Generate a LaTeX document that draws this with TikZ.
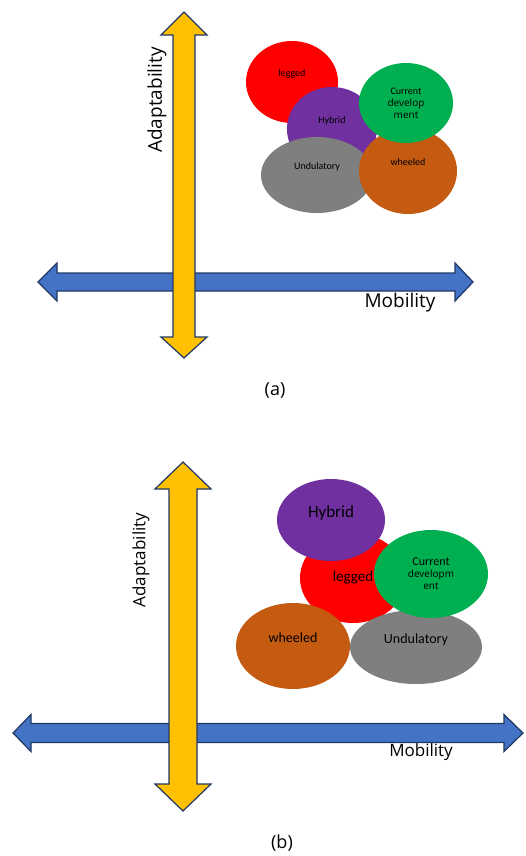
\documentclass[tikz,border=0pt]{standalone}
\usepackage{fontspec}
\setmainfont{Open Sans}
\newfontfamily\calfont{Carlito}
\usetikzlibrary{shapes.geometric}

\definecolor{axisblue}{HTML}{4472C4}
\definecolor{axisyellow}{HTML}{FFC000}
\definecolor{axisline}{HTML}{1F3864}
\definecolor{blobred}{HTML}{FF0000}
\definecolor{blobpurple}{HTML}{7030A0}
\definecolor{blobgreen}{HTML}{00B050}
\definecolor{blobbrown}{HTML}{C55A11}
\definecolor{blobgray}{HTML}{7F7F7F}

\begin{document}
\begin{tikzpicture}[x=1pt, y=-1pt,
    blockarrow/.style={draw=axisline, line width=1.2pt, line join=miter},
    blob/.style={ellipse, inner sep=0pt, align=center, text=black},
    raised/.style={text depth=17pt}]
    \useasboundingbox (0,0) rectangle (525,856);

    % (a) Eixo horizontal - Mobility
    \draw[blockarrow, fill=axisblue] (38,282) -- (57,263) -- (57,273) -- (455,273) -- (455,263) -- (473,282)
        -- (455,301) -- (455,291) -- (57,291) -- (57,301) -- cycle;
    % (a) Eixo vertical - Adaptability (por cima do azul)
    \draw[blockarrow, fill=axisyellow] (184,12) -- (207,35) -- (195,35) -- (195,337) -- (207,337) -- (184,358)
        -- (161,337) -- (173,337) -- (173,35) -- (161,35) -- cycle;
    \node (mobA) at (400,303) {\fontsize{19}{22}\selectfont Mobility};
    \node[rotate=90] (adaA) at (157,100) {\fontsize{19}{22}\selectfont Adaptability};

    % (a) Elipses, de baixo para cima
    \node[blob, raised, fill=blobred, minimum width=92, minimum height=82] (leggedA) at (292,82)
        {\calfont\fontsize{10}{14}\selectfont legged};
    \node[blob, raised, fill=blobpurple, minimum width=90, minimum height=84] (hybridA) at (332,129)
        {\calfont\fontsize{10}{14}\selectfont Hybrid};
    \node[blob, raised, fill=blobgray, minimum width=112, minimum height=76] (undulA) at (317,175)
        {\calfont\fontsize{10}{14}\selectfont Undulatory};
    \node[blob, raised, fill=blobbrown, minimum width=98, minimum height=86] (wheelA) at (408,171)
        {\calfont\fontsize{10}{14}\selectfont wheeled};
    \node[blob, fill=blobgreen, minimum width=94, minimum height=80] (currentA) at (406,103)
        {\calfont\fontsize{10}{14}\selectfont Current\\develop\\ment};

    \node (capA) at (275,390) {\fontsize{18}{22}\selectfont (a)};

    % (b) Eixo horizontal - Mobility
    \draw[blockarrow, fill=axisblue] (13,733) -- (31,714.5) -- (31,723.5) -- (504,723.5) -- (504,714.5) -- (523,733)
        -- (504,751.5) -- (504,742.5) -- (31,742.5) -- (31,751.5) -- cycle;
    % (b) Eixo vertical - Adaptability
    \draw[blockarrow, fill=axisyellow] (183,462) -- (211,489) -- (197,489) -- (197,784) -- (211,784) -- (183,811)
        -- (155,784) -- (169,784) -- (169,489) -- (155,489) -- cycle;
    \node (mobB) at (421,752) {\fontsize{17}{20}\selectfont Mobility};
    \node[rotate=90] (adaB) at (141,560) {\fontsize{17}{20}\selectfont Adaptability};

    % (b) Elipses, de baixo para cima
    \node[blob, fill=blobred, minimum width=106, minimum height=90] (leggedB) at (353,578)
        {\calfont\fontsize{15}{18}\selectfont legged};
    \node[blob, raised, fill=blobpurple, minimum width=108, minimum height=82] (hybridB) at (331,520)
        {\calfont\fontsize{17}{20}\selectfont Hybrid};
    \node[blob, raised, fill=blobbrown, minimum width=114, minimum height=86] (wheelB) at (293,646)
        {\calfont\fontsize{14}{17}\selectfont wheeled};
    \node[blob, raised, fill=blobgray, minimum width=132, minimum height=74] (undulB) at (416,647)
        {\calfont\fontsize{14}{17}\selectfont Undulatory};
    \node[blob, fill=blobgreen, minimum width=114, minimum height=88] (currentB) at (431,574)
        {\calfont\fontsize{12}{16.5}\selectfont Current\\developm\\ent};

    \node (capB) at (282,843) {\fontsize{18}{22}\selectfont (b)};

\end{tikzpicture}
\end{document}
